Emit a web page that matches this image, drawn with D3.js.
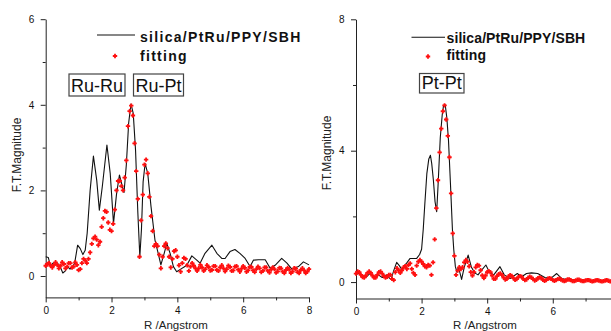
<!DOCTYPE html>
<html><head><meta charset="utf-8">
<script src="https://cdn.jsdelivr.net/npm/d3@7"></script>
<style>body{margin:0;background:#fff;} svg{display:block;font-family:Arial,"Liberation Sans",sans-serif;}</style>
</head><body><svg id="c" width="611" height="331"></svg>
<script>
// ---------- data ----------
const seriesName = "silica/PtRu/PPY/SBH";
const fitName = "fitting";
const xTitle = "R /Angstrom";
const yTitle = "F.T.Magnitude";
const leftPeakLabels = ["Ru-Ru", "Ru-Pt"];
const rightPeakLabels = ["Pt-Pt"];

const leftXTicks = [0, 2, 4, 6, 8];
const leftXMinor = [1, 3, 5, 7];
const leftYTicks = [0, 2, 4, 6];
const leftYMinor = [1, 3, 5];
const rightXTicks = [0, 2, 4, 6];
const rightXMinor = [1, 3, 5, 7];
const rightYTicks = [0, 4, 8];
const rightYMinor = [2, 6];

// experimental curve, left panel: [R, magnitude]
const leftExp = [[0,0.45],[0.08,0.43],[0.15,0.22],[0.22,0.3],[0.3,0.33],[0.38,0.28],[0.45,0.2],[0.52,0.07],[0.6,0.12],[0.66,0.22],[0.74,0.16],[0.8,0.2],[0.88,0.3],[0.97,0.72],[1.05,0.64],[1.13,0.5],[1.2,0.6],[1.26,1.0],[1.35,2.0],[1.45,2.8],[1.55,2.24],[1.63,1.54],[1.72,2.09],[1.86,3.06],[1.96,2.4],[2.06,1.23],[2.15,1.9],[2.24,2.36],[2.31,2.15],[2.38,1.95],[2.45,2.6],[2.52,3.57],[2.59,4.02],[2.66,3.8],[2.73,2.94],[2.8,1.47],[2.86,0.45],[2.91,1.1],[2.96,2.2],[3.02,2.63],[3.1,2.4],[3.2,1.62],[3.32,0.84],[3.42,0.52],[3.5,0.26],[3.6,0.53],[3.68,0.76],[3.78,0.53],[3.88,0.22],[3.98,0.1],[4.1,0.16],[4.23,0.22],[4.32,0.3],[4.44,0.47],[4.59,0.37],[4.69,0.3],[4.84,0.53],[5.05,0.72],[5.2,0.53],[5.35,0.41],[5.45,0.41],[5.6,0.57],[5.75,0.62],[5.9,0.53],[6.06,0.41],[6.21,0.22],[6.31,0.37],[6.46,0.38],[6.67,0.38],[6.82,0.18],[6.97,0.25],[7.17,0.41],[7.33,0.3],[7.48,0.16],[7.68,0.22],[7.83,0.33],[8.0,0.26]];

// fitting points, left panel, R = 0, 0.05, 0.10 ...
const fitStep = 0.05;
const leftFit = [
0.24,0.28,0.30,0.24,0.20,0.26,0.32,0.26,0.18,0.24,0.32,0.28,0.18,0.22,0.30,0.30,0.20,0.22,0.32,0.26,
0.14,0.16,0.30,0.40,0.36,0.30,0.40,0.55,0.75,0.88,0.92,0.85,0.72,0.80,1.15,1.35,1.52,1.50,1.25,1.08,
1.05,1.22,1.55,2.00,2.22,2.22,2.10,2.00,2.30,2.70,3.50,3.85,3.98,3.75,3.10,2.45,1.80,0.45,1.30,1.90,
2.60,2.72,2.40,1.85,1.40,1.05,0.70,0.75,0.70,0.50,0.18,0.45,0.70,0.76,0.65,0.45,0.20,0.40,0.58,0.60,
0.45,0.25,0.10,0.30,0.42,0.40,0.25,0.12,0.22,0.30,0.24,0.18,0.12,0.18,0.26,0.20,0.12,0.16,0.25,0.21,
0.13,0.14,0.23,0.23,0.14,0.12,0.20,0.25,0.18,0.11,0.16,0.24,0.21,0.12,0.13,0.22,0.23,0.15,0.10,0.17,
0.23,0.19,0.10,0.13,0.21,0.21,0.13,0.09,0.16,0.22,0.18,0.09,0.12,0.20,0.20,0.12,0.08,0.15,0.20,0.16,
0.08,0.11,0.19,0.18,0.10,0.07,0.14,0.19,0.15,0.07,0.10,0.18,0.17,0.09,0.07,0.14,0.18,0.13,0.07,0.10,
0.16];

// experimental curve, right panel
const rightExp = [[0,0.22],[0.1,0.28],[0.2,0.2],[0.3,0.14],[0.42,0.26],[0.55,0.14],[0.68,0.22],[0.8,0.14],[0.92,0.22],[1.0,0.14],[1.07,0.08],[1.15,0.35],[1.24,0.6],[1.32,0.5],[1.4,0.38],[1.48,0.5],[1.56,0.6],[1.65,0.72],[1.75,0.72],[1.85,0.72],[1.94,0.84],[2.0,1.0],[2.05,1.6],[2.1,2.4],[2.16,3.3],[2.22,3.75],[2.27,3.86],[2.31,3.6],[2.36,3.1],[2.41,2.45],[2.46,2.14],[2.5,2.9],[2.57,4.4],[2.63,5.1],[2.67,5.38],[2.72,5.4],[2.77,5.0],[2.82,4.32],[2.88,3.0],[2.94,1.6],[2.98,1.0],[3.03,0.47],[3.08,0.3],[3.12,0.45],[3.17,0.28],[3.22,0.08],[3.3,0.45],[3.42,0.82],[3.52,0.45],[3.62,0.28],[3.72,0.22],[3.82,0.35],[3.96,0.52],[4.08,0.28],[4.2,0.22],[4.39,0.47],[4.52,0.22],[4.7,0.11],[4.92,0.26],[5.05,0.16],[5.2,0.26],[5.35,0.28],[5.54,0.26],[5.76,0.14],[5.95,0.12],[6.12,0.26],[6.27,0.11],[6.43,0.08],[6.7,0.06],[7.0,0.05],[7.3,0.04],[7.8,0.04]];

const rightFit = [
0.26,0.32,0.30,0.22,0.15,0.14,0.20,0.28,0.32,0.28,0.20,0.14,0.14,0.22,0.30,0.32,0.26,0.18,0.14,0.16,
0.22,0.22,0.10,0.06,0.30,0.42,0.36,0.28,0.36,0.45,0.48,0.40,0.52,0.57,0.40,0.28,0.22,0.50,0.62,0.67,
0.62,0.55,0.48,0.45,0.52,0.50,0.22,0.60,1.30,2.25,3.10,3.95,4.67,5.20,5.38,4.95,4.45,3.80,2.70,1.48,
0.80,0.22,0.35,0.45,0.40,0.45,0.60,0.67,0.62,0.48,0.30,0.20,0.30,0.45,0.52,0.50,0.36,0.20,0.12,0.20,
0.30,0.33,0.30,0.20,0.10,0.10,0.18,0.24,0.26,0.22,0.14,0.08,0.10,0.17,0.21,0.19,0.12,0.07,0.09,0.15,
0.18,0.16,0.10,0.06,0.08,0.13,0.16,0.14,0.09,0.05,0.07,0.12,0.14,0.12,0.07,0.04,0.06,0.10,0.12,0.10,
0.06,0.04,0.06,0.09,0.10,0.08,0.05,0.03,0.05,0.08,0.08,0.06,0.03,0.03,0.05,0.07,0.07,0.05,0.03,0.03,
0.05,0.06,0.06,0.04,0.02,0.03,0.05,0.06,0.05,0.03,0.02,0.03,0.05,0.06,0.04,0.02,0.03];

// ---------- drawing ----------
const svg = d3.select("#c");
const crossPath = "M-2.2,0H2.2M0,-2.2V2.2";

function panel(o) {
  const x = d3.scaleLinear().domain(o.xDomain).range(o.xRange);
  const y = d3.scaleLinear().domain(o.yDomain).range(o.yRange);
  const g = svg.append("g");
  const yAxisX = o.xRange[0], xAxisY = o.yRange[0];

  g.append("g").attr("transform", `translate(0,${xAxisY})`)
    .call(d3.axisBottom(x).tickValues(o.xTicks).tickFormat(d3.format("d")).tickSize(5).tickSizeOuter(0).tickPadding(4.5));
  g.append("g").attr("transform", `translate(0,${xAxisY})`)
    .call(d3.axisBottom(x).tickValues(o.xMinor).tickFormat("").tickSize(3).tickSizeOuter(0))
    .select(".domain").remove();
  g.append("g").attr("transform", `translate(${yAxisX},0)`)
    .call(d3.axisLeft(y).tickValues(o.yTicks).tickFormat(d3.format("d")).tickSize(5).tickSizeOuter(0).tickPadding(6.5));
  g.append("g").attr("transform", `translate(${yAxisX},0)`)
    .call(d3.axisLeft(y).tickValues(o.yMinor).tickFormat("").tickSize(3).tickSizeOuter(0))
    .select(".domain").remove();
  g.selectAll(".tick text").attr("font-size", 10).attr("font-family", "Arial, 'Liberation Sans', sans-serif").attr("fill", "#111");
  g.selectAll(".domain, .tick line").attr("stroke", "#222");

  g.append("text").attr("x", o.xTitlePos[0]).attr("y", o.xTitlePos[1])
    .attr("text-anchor", "middle").attr("font-size", 11.5).attr("fill", "#222").text(xTitle);
  g.append("text").attr("transform", `translate(${o.yTitlePos[0]},${o.yTitlePos[1]}) rotate(-90)`)
    .attr("text-anchor", "middle").attr("font-size", 12).attr("fill", "#222").text(yTitle);

  const line = d3.line().x(d => x(d[0])).y(d => y(d[1]));
  g.append("path").datum(o.exp).attr("d", line).attr("fill", "none")
    .attr("stroke", "#111").attr("stroke-width", 1.1).attr("stroke-linejoin", "round");

  g.append("g").selectAll("path").data(o.fit).join("path")
    .attr("transform", (d, i) => `translate(${x(i * fitStep)},${y(d)})`)
    .attr("d", crossPath).attr("stroke", "#ff1010").attr("stroke-width", 1.8).attr("fill", "none");

  const lg = o.legend;
  g.append("line").attr("x1", lg.lx1).attr("x2", lg.lx2).attr("y1", lg.ly).attr("y2", lg.ly)
    .attr("stroke", "#111").attr("stroke-width", 1.1);
  g.append("text").attr("x", lg.tx).attr("y", lg.t1y).attr("font-size", 14).attr("font-weight", "bold")
    .attr("letter-spacing", lg.ls).attr("fill", "#111").text(seriesName);
  g.append("path").attr("transform", `translate(${lg.mx},${lg.my})`).attr("d", crossPath)
    .attr("stroke", "#ff1010").attr("stroke-width", 1.8);
  g.append("text").attr("x", lg.tx).attr("y", lg.t2y).attr("font-size", 14).attr("font-weight", "bold")
    .attr("letter-spacing", lg.ls).attr("fill", "#111").text(fitName);

  o.boxes.forEach(b => {
    g.append("rect").attr("x", b.x).attr("y", b.y).attr("width", b.w).attr("height", b.h)
      .attr("fill", "none").attr("stroke", "#444").attr("stroke-width", 1.2);
    g.append("text").attr("x", b.x + b.w / 2).attr("y", b.y + b.h - 4).attr("text-anchor", "middle")
      .attr("font-size", 18).attr("fill", "#111").text(b.label);
  });
}

panel({
  xDomain: [0, 8], xRange: [45.7, 309],
  yDomain: [-0.5, 6], yRange: [297.4, 19.2],
  xTicks: leftXTicks, xMinor: leftXMinor, yTicks: leftYTicks, yMinor: leftYMinor,
  exp: leftExp, fit: leftFit,
  xTitlePos: [176, 328.5], yTitlePos: [21, 155],
  legend: {lx1: 97, lx2: 135, ly: 35, tx: 140, t1y: 41.5, t2y: 61, ls: 1.3, mx: 115, my: 56},
  boxes: [
    {x: 69, y: 74, w: 56, h: 22, label: leftPeakLabels[0]},
    {x: 133.5, y: 74, w: 50, h: 22, label: leftPeakLabels[1]}
  ]
});

panel({
  xDomain: [0, 7.8], xRange: [356, 611.8],
  yDomain: [-0.5, 8], yRange: [298.5, 19.3],
  xTicks: rightXTicks, xMinor: rightXMinor, yTicks: rightYTicks, yMinor: rightYMinor,
  exp: rightExp, fit: rightFit,
  xTitlePos: [485, 328.5], yTitlePos: [331, 153],
  legend: {lx1: 411.5, lx2: 445, ly: 37.3, tx: 446.5, t1y: 42.5, t2y: 60, ls: 0.1, mx: 428, my: 56.5},
  boxes: [
    {x: 419.5, y: 73.5, w: 44.5, h: 19.5, label: rightPeakLabels[0]}
  ]
});
</script>
</body></html>
